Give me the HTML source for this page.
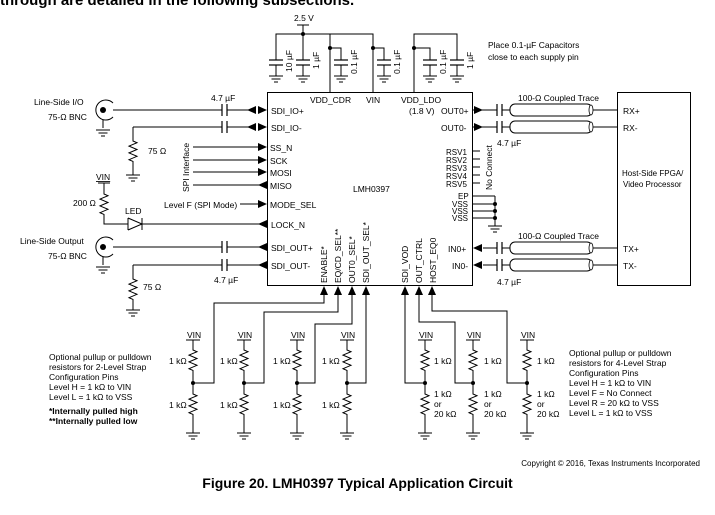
<!DOCTYPE html>
<html><head><meta charset="utf-8"><style>
html,body{margin:0;padding:0;background:#fff;width:715px;height:515px;overflow:hidden}
svg{display:block}
text{font-family:"Liberation Sans",Arial,sans-serif;font-size:8.5px;fill:#000}
.b{font-weight:bold}
</style></head><body>
<svg width="715" height="515" viewBox="0 0 715 515" xmlns="http://www.w3.org/2000/svg">
<defs>
<path id="res" d="M0,0 v2 l4,1.7 l-8,3.4 l8,3.4 l-8,3.4 l8,3.4 l-8,3.4 l4,1.7 v2" fill="none" stroke="#000" stroke-width="1"/>
<g id="gnd" stroke="#000" stroke-width="1"><line x1="-7" y1="0" x2="7" y2="0"/><line x1="-4.5" y1="3" x2="4.5" y2="3"/><line x1="-2" y1="6" x2="2" y2="6"/></g>
<g id="vcap" stroke="#000" stroke-width="1.2"><line x1="-7" y1="0" x2="7" y2="0"/><line x1="-7" y1="5" x2="7" y2="5"/></g>
<g id="hcap" stroke="#000" stroke-width="1.2"><line x1="0" y1="-6" x2="0" y2="6"/><line x1="5" y1="-6" x2="5" y2="6"/></g>
<path id="ar" d="M0,0 l-9,-4 v8 z" fill="#000"/>
<path id="al" d="M0,0 l9,-4 v8 z" fill="#000"/>
<path id="au" d="M0,0 l-4,9 h8 z" fill="#000"/>
</defs>
<text x="0" y="5" class="b" style="font-size:15px">through are detailed in the following subsections.</text>

<g stroke="#000" stroke-width="1" fill="none">
<rect x="267.5" y="92.5" width="205" height="193"/>
<rect x="617.5" y="92.5" width="73" height="193"/>
<path d="M276,60 V34 H373 V92 M330,34 V92 M330,48 H341 V60 M373,48 H384 V60 M303,34 V60"/>
<path d="M414,92 V34 H457 V60 M414,48 H430 V60"/>
<path d="M303,25 V34 M297,25 H309"/>
<path d="M276,65 V76 M303,65 V76 M341,65 V76 M384,65 V76 M430,65 V76 M457,65 V76"/>
<path d="M113,110 H222 M227,110 H250 M133,127 H222 M227,127 H250 M133,127 V140 M133,163 V175"/>
<path d="M103,120 V128"/>
<path d="M113,103 A10,10 0 1 0 113,117"/>
<path d="M193,147 H262 M193,160 H262 M193,172 H262 M193,185 H260"/>
<path d="M240,204 H262 M104,183 V192 M104,216 V224 H128 M142,224 H260 M98,183 H110"/>
<path d="M128,218 V230 M128,218 L142,224 L128,230 M142,218 V230"/>
<path d="M113,247 H222 M227,247 H260 M133,265 H222 M227,265 H260 M133,265 V277 M133,300 V310 M103,257 V265"/>
<path d="M113,240 A10,10 0 1 0 113,254"/>
<path d="M473,110 H497 M502,110 H510 M473,127 H497 M502,127 H510 M592,110 H617 M592,127 H617"/>
<path d="M483,248 H497 M502,248 H510 M483,265 H497 M502,265 H510 M592,248 H617 M592,265 H617"/>
<rect x="510" y="104" width="82" height="12" rx="5"/>
<rect x="510" y="121" width="82" height="12" rx="5"/>
<rect x="510" y="242" width="82" height="12" rx="5"/>
<rect x="510" y="259" width="82" height="12" rx="5"/>
<path d="M472,151 H480 M472,159 H480 M472,167 H480 M472,175 H480 M472,183 H480"/>
<path d="M472,196 H495 M472,204 H495 M472,211 H495 M472,218 H495 M495,196 V226"/>
<path d="M324,295 V303 H214 V383 H193 M338,295 V312 H264 V383 H244 M352,295 V324 H315 V383 H297 M366,295 V383 H347"/>
<path d="M405,295 V383 H425 M419,295 V322 H455 V383 H473 M432,295 V311 H507 V383 H527"/>
<path d="M193,340 V348 M193,372 V392 M193,416 V433 M186,340 H200"/>
<path d="M244,340 V348 M244,372 V392 M244,416 V433 M237,340 H251"/>
<path d="M297,340 V348 M297,372 V392 M297,416 V433 M290,340 H304"/>
<path d="M347,340 V348 M347,372 V392 M347,416 V433 M340,340 H354"/>
<path d="M425,340 V348 M425,372 V392 M425,416 V433 M418,340 H432"/>
<path d="M473,340 V348 M473,372 V392 M473,416 V433 M466,340 H480"/>
<path d="M527,340 V348 M527,372 V392 M527,416 V433 M520,340 H534"/>
</g>
<circle cx="103" cy="110" r="3" fill="#000"/>
<circle cx="103" cy="247" r="3" fill="#000"/>
<g fill="#000">
<circle cx="303" cy="34" r="2"/><circle cx="330" cy="48" r="2"/><circle cx="373" cy="48" r="2"/><circle cx="414" cy="48" r="2"/>
<circle cx="495" cy="204" r="2"/><circle cx="495" cy="211" r="2"/><circle cx="495" cy="218" r="2"/>
<circle cx="193" cy="383" r="2"/><circle cx="244" cy="383" r="2"/><circle cx="297" cy="383" r="2"/><circle cx="347" cy="383" r="2"/>
<circle cx="425" cy="383" r="2"/><circle cx="473" cy="383" r="2"/><circle cx="527" cy="383" r="2"/>
</g>
<g fill="#fff" stroke="#000" stroke-width="0.8">
<ellipse cx="591" cy="110" rx="2" ry="5"/><ellipse cx="591" cy="127" rx="2" ry="5"/><ellipse cx="591" cy="248" rx="2" ry="5"/><ellipse cx="591" cy="265" rx="2" ry="5"/>
</g>
<use href="#vcap" x="276" y="60"/><use href="#vcap" x="303" y="60"/><use href="#vcap" x="341" y="60"/><use href="#vcap" x="384" y="60"/><use href="#vcap" x="430" y="60"/><use href="#vcap" x="457" y="60"/>
<use href="#gnd" x="276" y="76"/><use href="#gnd" x="303" y="76"/><use href="#gnd" x="341" y="76"/><use href="#gnd" x="384" y="76"/><use href="#gnd" x="430" y="76"/><use href="#gnd" x="457" y="76"/>
<use href="#hcap" x="222" y="110"/><use href="#hcap" x="222" y="127"/><use href="#hcap" x="222" y="247"/><use href="#hcap" x="222" y="265"/>
<use href="#hcap" x="497" y="110"/><use href="#hcap" x="497" y="127"/><use href="#hcap" x="497" y="248"/><use href="#hcap" x="497" y="265"/>
<use href="#gnd" x="103" y="130"/><use href="#gnd" x="133" y="175"/><use href="#gnd" x="103" y="267"/><use href="#gnd" x="133" y="310"/><use href="#gnd" x="495" y="226"/>
<use href="#res" x="133" y="139"/><use href="#res" x="133" y="277"/><use href="#res" x="104" y="192"/>
<use href="#res" x="193" y="348"/><use href="#res" x="193" y="392"/><use href="#res" x="244" y="348"/><use href="#res" x="244" y="392"/>
<use href="#res" x="297" y="348"/><use href="#res" x="297" y="392"/><use href="#res" x="347" y="348"/><use href="#res" x="347" y="392"/>
<use href="#res" x="425" y="348"/><use href="#res" x="425" y="392"/><use href="#res" x="473" y="348"/><use href="#res" x="473" y="392"/>
<use href="#res" x="527" y="348"/><use href="#res" x="527" y="392"/>
<use href="#gnd" x="193" y="433"/><use href="#gnd" x="244" y="433"/><use href="#gnd" x="297" y="433"/><use href="#gnd" x="347" y="433"/>
<use href="#gnd" x="425" y="433"/><use href="#gnd" x="473" y="433"/><use href="#gnd" x="527" y="433"/>
<use href="#al" x="247" y="110"/><use href="#ar" x="267" y="110"/><use href="#al" x="247" y="127"/><use href="#ar" x="267" y="127"/>
<use href="#ar" x="267" y="147"/><use href="#ar" x="267" y="160"/><use href="#ar" x="267" y="172"/><use href="#al" x="258" y="185"/>
<use href="#ar" x="267" y="204"/><use href="#al" x="258" y="224"/><use href="#al" x="258" y="247"/><use href="#al" x="258" y="265"/>
<use href="#ar" x="483" y="110"/><use href="#ar" x="483" y="127"/><use href="#al" x="473" y="248"/><use href="#al" x="473" y="265"/>
<use href="#au" x="324" y="286"/><use href="#au" x="338" y="286"/><use href="#au" x="352" y="286"/><use href="#au" x="366" y="286"/>
<use href="#au" x="405" y="286"/><use href="#au" x="419" y="286"/><use href="#au" x="432" y="286"/>

<text x="294" y="21">2.5 V</text>
<text transform="translate(292,72) rotate(-90)">10 µF</text>
<text transform="translate(319,69) rotate(-90)">1 µF</text>
<text transform="translate(357,74) rotate(-90)">0.1 µF</text>
<text transform="translate(400,74) rotate(-90)">0.1 µF</text>
<text transform="translate(446,74) rotate(-90)">0.1 µF</text>
<text transform="translate(473,69) rotate(-90)">1 µF</text>
<text x="488" y="48">Place 0.1-µF Capacitors</text>
<text x="488" y="60">close to each supply pin</text>
<text x="310" y="103">VDD_CDR</text>
<text x="366" y="103">VIN</text>
<text x="401" y="103">VDD_LDO</text>
<text x="409" y="114">(1.8 V)</text>
<text x="441" y="114">OUT0+</text>
<text x="441" y="131">OUT0-</text>
<text x="446" y="155" style="font-size:8px">RSV1</text>
<text x="446" y="163" style="font-size:8px">RSV2</text>
<text x="446" y="171" style="font-size:8px">RSV3</text>
<text x="446" y="179" style="font-size:8px">RSV4</text>
<text x="446" y="187" style="font-size:8px">RSV5</text>
<text transform="translate(492,190) rotate(-90)">No Connect</text>
<text x="458" y="199" style="font-size:8px">EP</text>
<text x="452" y="207" style="font-size:8px">VSS</text>
<text x="452" y="214" style="font-size:8px">VSS</text>
<text x="452" y="221" style="font-size:8px">VSS</text>
<text x="448" y="252">IN0+</text>
<text x="452" y="269">IN0-</text>
<text x="353" y="192">LMH0397</text>
<text x="271" y="114">SDI_IO+</text>
<text x="271" y="131">SDI_IO-</text>
<text x="270" y="151">SS_N</text>
<text x="270" y="164">SCK</text>
<text x="270" y="176">MOSI</text>
<text x="270" y="189">MISO</text>
<text x="270" y="208">MODE_SEL</text>
<text x="271" y="228">LOCK_N</text>
<text x="271" y="251">SDI_OUT+</text>
<text x="271" y="269">SDI_OUT-</text>
<text transform="translate(327,283) rotate(-90)">ENABLE*</text>
<text transform="translate(341,283) rotate(-90)">EQ/CD_SEL**</text>
<text transform="translate(355,283) rotate(-90)">OUT0_SEL*</text>
<text transform="translate(369,283) rotate(-90)">SDI_OUT_SEL*</text>
<text transform="translate(408,283) rotate(-90)">SDI_VOD</text>
<text transform="translate(422,283) rotate(-90)">OUT_CTRL</text>
<text transform="translate(436,283) rotate(-90)">HOST_EQ0</text>
<text x="211" y="101">4.7 µF</text>
<text x="214" y="283">4.7 µF</text>
<text x="497" y="146">4.7 µF</text>
<text x="497" y="285">4.7 µF</text>
<text x="518" y="101">100-Ω Coupled Trace</text>
<text x="518" y="239">100-Ω Coupled Trace</text>
<text x="623" y="114">RX+</text>
<text x="623" y="131">RX-</text>
<text x="623" y="252">TX+</text>
<text x="623" y="269">TX-</text>
<text x="622" y="176" style="font-size:8px">Host-Side FPGA/</text>
<text x="623" y="187" style="font-size:8px">Video Processor</text>
<text x="34" y="105">Line-Side I/O</text>
<text x="48" y="120">75-Ω BNC</text>
<text x="20" y="244">Line-Side Output</text>
<text x="48" y="259">75-Ω BNC</text>
<text x="148" y="154">75 Ω</text>
<text x="143" y="290">75 Ω</text>
<text transform="translate(189,192) rotate(-90)">SPI Interface</text>
<text x="96" y="180" style="text-decoration:underline">VIN</text>
<text x="73" y="206">200 Ω</text>
<text x="125" y="214">LED</text>
<text x="164" y="208">Level F (SPI Mode)</text>
<text x="187" y="338">VIN</text><text x="238" y="338">VIN</text><text x="291" y="338">VIN</text><text x="341" y="338">VIN</text>
<text x="419" y="338">VIN</text><text x="467" y="338">VIN</text><text x="521" y="338">VIN</text>
<text x="169" y="364">1 kΩ</text><text x="169" y="408">1 kΩ</text>
<text x="220" y="364">1 kΩ</text><text x="220" y="408">1 kΩ</text>
<text x="273" y="364">1 kΩ</text><text x="273" y="408">1 kΩ</text>
<text x="322" y="364">1 kΩ</text><text x="322" y="408">1 kΩ</text>
<text x="434" y="364">1 kΩ</text><text x="434" y="397">1 kΩ</text><text x="434" y="407">or</text><text x="434" y="417">20 kΩ</text>
<text x="484" y="364">1 kΩ</text><text x="484" y="397">1 kΩ</text><text x="484" y="407">or</text><text x="484" y="417">20 kΩ</text>
<text x="537" y="364">1 kΩ</text><text x="537" y="397">1 kΩ</text><text x="537" y="407">or</text><text x="537" y="417">20 kΩ</text>
<text x="49" y="360">Optional pullup or pulldown</text>
<text x="49" y="370">resistors for 2-Level Strap</text>
<text x="49" y="380">Configuration Pins</text>
<text x="49" y="390">Level H = 1 kΩ to VIN</text>
<text x="49" y="400">Level L = 1 kΩ to VSS</text>
<text x="49" y="414" class="b">*Internally pulled high</text>
<text x="49" y="424" class="b">**Internally pulled low</text>
<text x="569" y="356">Optional pullup or pulldown</text>
<text x="569" y="366">resistors for 4-Level Strap</text>
<text x="569" y="376">Configuration Pins</text>
<text x="569" y="386">Level H = 1 kΩ to VIN</text>
<text x="569" y="396">Level F = No Connect</text>
<text x="569" y="406">Level R = 20 kΩ to VSS</text>
<text x="569" y="416">Level L = 1 kΩ to VSS</text>
<text x="700" y="466" text-anchor="end" style="font-size:8px">Copyright © 2016, Texas Instruments Incorporated</text>
<text x="357.5" y="488" class="b" text-anchor="middle" style="font-size:14px">Figure 20.  LMH0397 Typical Application Circuit</text>
</svg>
</body></html>
